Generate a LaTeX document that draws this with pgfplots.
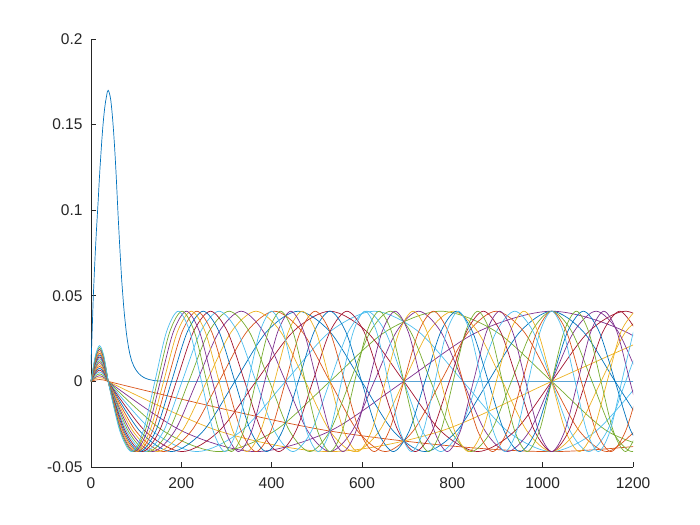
\documentclass[border=0pt]{standalone}
\usepackage{fontspec}
\setmainfont{Liberation Sans}
\usepackage{pgfplots}
\pgfplotsset{compat=1.18}
\definecolor{mb1}{HTML}{0072BD}
\definecolor{mb2}{HTML}{D95319}
\definecolor{mb3}{HTML}{EDB120}
\definecolor{mb4}{HTML}{7E2F8E}
\definecolor{mb5}{HTML}{77AC30}
\definecolor{mb6}{HTML}{4DBEEE}
\definecolor{mb7}{HTML}{A2142F}
\definecolor{axgray}{HTML}{262626}
\begin{document}
\begin{tikzpicture}
\path[use as bounding box] (-91bp,-58bp) rectangle (609bp,467bp);
\begin{axis}[
    at={(0,0)}, anchor=south west, scale only axis,
    width=542bp, height=428bp,
    xmin=0, xmax=1200, ymin=-0.05, ymax=0.2,
    axis x line*=bottom, axis y line*=left,
    axis line style={axgray, line width=0.8pt},
    xtick={0,200,...,1200}, xticklabels={0,200,400,600,800,1000,1200},
    ytick={-0.05,0,0.05,0.1,0.15,0.2}, yticklabels={-0.05,0,0.05,0.1,0.15,0.2},
    tick align=inside, major tick length=5bp,
    tick style={axgray, line width=0.8pt},
    tick label style={font=\fontsize{15.5bp}{18bp}\selectfont, text=axgray},
    xticklabel style={yshift=-7bp},
    yticklabel style={xshift=-5bp},
    every axis plot/.append style={line width=0.7pt, no markers},
]
% bound state
\addplot[mb1] coordinates {
(0,0.010)(1,0.017)(2,0.025)(3,0.033)(4,0.041)(5,0.049)(6.5,0.058)(8,0.067)(10,0.078)
(12,0.088)(14,0.097)(16,0.106)(18,0.116)(20,0.125)(22,0.133)(24,0.141)(26,0.148)
(28,0.154)(30,0.159)(32,0.163)(34,0.166)(36,0.169)(38,0.170)(40,0.169)(42,0.167)
(44,0.164)(46,0.159)(48,0.153)(50,0.146)(52,0.138)(54,0.129)(56,0.119)(58,0.108)
(60,0.097)(62,0.087)(64,0.077)(66,0.068)(68,0.059)(70,0.052)(72,0.045)(74,0.039)
(76,0.034)(78,0.029)(80,0.025)(83,0.020)(86,0.016)(90,0.0120)(95,0.0088)(100,0.0065)
(105,0.0048)(110,0.0035)(115,0.0026)(120,0.0019)(125,0.0014)(130,0.0010)(140,0.0005)
(150,0.0002)(170,0)(1200,0)};
% n = 1
\addplot[mb2, smooth] coordinates {(0,0)(9.5,0.0008)(19,0.0011)(28.5,0.0008)(38,0)};
\addplot[mb2, smooth] coordinates {(38,0)(529,-0.029)(1020,-0.041)(1511,-0.029)};
% n = 2
\addplot[mb3, smooth] coordinates {(0,0)(9.5,0.0016)(19,0.0022)(28.5,0.0016)(38,0)};
\addplot[mb3, smooth] coordinates {(38,0)(283.5,-0.029)(529,-0.041)(774.5,-0.029)(1020,0)(1265.5,0.029)};
% n = 3
\addplot[mb4, smooth] coordinates {(0,0)(9.5,0.0023)(19,0.0033)(28.5,0.0023)(38,0)};
\addplot[mb4, smooth] coordinates {(38,0)(201.7,-0.029)(365.3,-0.041)(529,-0.029)(692.7,0)(856.3,0.029)(1020,0.041)(1183.7,0.029)(1347.3,0)};
% n = 4
\addplot[mb5, smooth] coordinates {(0,0)(9.5,0.0031)(19,0.0044)(28.5,0.0031)(38,0)};
\addplot[mb5, smooth] coordinates {(38,0)(160.75,-0.029)(283.5,-0.041)(406.25,-0.029)(529,0)(651.75,0.029)(774.5,0.041)(897.25,0.029)(1020,0)(1142.75,-0.029)(1265.5,-0.041)};
% n = 5
\addplot[mb6, smooth] coordinates {(0,0)(9.5,0.0039)(19,0.0055)(28.5,0.0039)(38,0)};
\addplot[mb6, smooth] coordinates {(38,0)(136.2,-0.029)(234.4,-0.041)(332.6,-0.029)(430.8,0)(529,0.029)(627.2,0.041)(725.4,0.029)(823.6,0)(921.8,-0.029)(1020,-0.041)(1118.2,-0.029)(1216.4,0)};
% n = 6
\addplot[mb7, smooth] coordinates {(0,0)(9.5,0.0047)(19,0.0066)(28.5,0.0047)(38,0)};
\addplot[mb7, smooth] coordinates {(38,0)(119.8,-0.029)(201.7,-0.041)(283.5,-0.029)(365.3,0)(447.2,0.029)(529,0.041)(610.8,0.029)(692.7,0)(774.5,-0.029)(856.3,-0.041)(938.2,-0.029)(1020,0)(1101.8,0.029)(1183.7,0.041)(1265.5,0.029)};
% n = 7
\addplot[mb1, smooth] coordinates {(0,0)(9.5,0.0054)(19,0.0077)(28.5,0.0054)(38,0)};
\addplot[mb1, smooth] coordinates {(38,0)(108.1,-0.029)(178.3,-0.041)(248.4,-0.029)(318.6,0)(388.7,0.029)(458.9,0.041)(529,0.029)(599.1,0)(669.3,-0.029)(739.4,-0.041)(809.6,-0.029)(879.7,0)(949.9,0.029)(1020,0.041)(1090.1,0.029)(1160.3,0)(1230.4,-0.029)};
% n = 8
\addplot[mb2, smooth] coordinates {(0,0)(9.5,0.0062)(19,0.0088)(28.5,0.0062)(38,0)};
\addplot[mb2, smooth] coordinates {(38,0)(99.4,-0.029)(160.75,-0.041)(222.1,-0.029)(283.5,0)(344.9,0.029)(406.25,0.041)(467.6,0.029)(529,0)(590.4,-0.029)(651.75,-0.041)(713.1,-0.029)(774.5,0)(835.9,0.029)(897.25,0.041)(958.6,0.029)(1020,0)(1081.4,-0.029)(1142.75,-0.041)(1204.1,-0.029)};
% n = 9
\addplot[mb3, smooth] coordinates {(0,0)(9.5,0.0070)(19,0.0099)(28.5,0.0070)(38,0)};
\addplot[mb3, smooth] coordinates {(38,0)(92.6,-0.029)(147.1,-0.041)(201.7,-0.029)(256.2,0)(310.8,0.029)(365.3,0.041)(419.9,0.029)(474.4,0)(529,-0.029)(583.6,-0.041)(638.1,-0.029)(692.7,0)(747.2,0.029)(801.8,0.041)(856.3,0.029)(910.9,0)(965.4,-0.029)(1020,-0.041)(1074.6,-0.029)(1129.1,0)(1183.7,0.029)(1238.2,0.041)};
% n = 10
\addplot[mb4, smooth] coordinates {(0,0)(9.5,0.0078)(19,0.0110)(28.5,0.0078)(38,0)};
\addplot[mb4, smooth] coordinates {(38,0)(87.1,-0.029)(136.2,-0.041)(185.3,-0.029)(234.4,0)(283.5,0.029)(332.6,0.041)(381.7,0.029)(430.8,0)(479.9,-0.029)(529,-0.041)(578.1,-0.029)(627.2,0)(676.3,0.029)(725.4,0.041)(774.5,0.029)(823.6,0)(872.7,-0.029)(921.8,-0.041)(970.9,-0.029)(1020,0)(1069.1,0.029)(1118.2,0.041)(1167.3,0.029)(1216.4,0)};
% n = 11
\addplot[mb5, smooth] coordinates {(0,0)(9.5,0.0086)(19,0.0121)(28.5,0.0086)(38,0)};
\addplot[mb5, smooth] coordinates {(38,0)(82.6,-0.029)(127.3,-0.041)(171.9,-0.029)(216.5,0)(261.2,0.029)(305.8,0.041)(350.5,0.029)(395.1,0)(439.7,-0.029)(484.4,-0.041)(529,-0.029)(573.6,0)(618.3,0.029)(662.9,0.041)(707.5,0.029)(752.2,0)(796.8,-0.029)(841.5,-0.041)(886.1,-0.029)(930.7,0)(975.4,0.029)(1020,0.041)(1064.6,0.029)(1109.3,0)(1153.9,-0.029)(1198.5,-0.041)(1243.2,-0.029)};
% n = 12
\addplot[mb6, smooth] coordinates {(0,0)(9.5,0.0093)(19,0.0132)(28.5,0.0093)(38,0)};
\addplot[mb6, smooth] coordinates {(38,0)(78.9,-0.029)(119.8,-0.041)(160.75,-0.029)(201.7,0)(242.6,0.029)(283.5,0.041)(324.4,0.029)(365.3,0)(406.25,-0.029)(447.2,-0.041)(488.1,-0.029)(529,0)(569.9,0.029)(610.8,0.041)(651.75,0.029)(692.7,0)(733.6,-0.029)(774.5,-0.041)(815.4,-0.029)(856.3,0)(897.25,0.029)(938.2,0.041)(979.1,0.029)(1020,0)(1060.9,-0.029)(1101.8,-0.041)(1142.75,-0.029)(1183.7,0)(1224.6,0.029)};
% n = 13
\addplot[mb7, smooth] coordinates {(0,0)(9.5,0.0101)(19,0.0143)(28.5,0.0101)(38,0)};
\addplot[mb7, smooth] coordinates {(38,0)(75.8,-0.029)(113.5,-0.041)(151.3,-0.029)(189.1,0)(226.8,0.029)(264.6,0.041)(302.4,0.029)(340.2,0)(377.9,-0.029)(415.7,-0.041)(453.5,-0.029)(491.2,0)(529,0.029)(566.8,0.041)(604.5,0.029)(642.3,0)(680.1,-0.029)(717.8,-0.041)(755.6,-0.029)(793.4,0)(831.2,0.029)(868.9,0.041)(906.7,0.029)(944.5,0)(982.2,-0.029)(1020,-0.041)(1057.8,-0.029)(1095.5,0)(1133.3,0.029)(1171.1,0.041)(1208.8,0.029)};
% n = 14
\addplot[mb1, smooth] coordinates {(0,0)(9.5,0.0109)(19,0.0154)(28.5,0.0109)(38,0)};
\addplot[mb1, smooth] coordinates {(38,0)(73.1,-0.029)(108.1,-0.041)(143.2,-0.029)(178.3,0)(213.4,0.029)(248.4,0.041)(283.5,0.029)(318.6,0)(353.6,-0.029)(388.7,-0.041)(423.8,-0.029)(458.9,0)(493.9,0.029)(529,0.041)(564.1,0.029)(599.1,0)(634.2,-0.029)(669.3,-0.041)(704.4,-0.029)(739.4,0)(774.5,0.029)(809.6,0.041)(844.6,0.029)(879.7,0)(914.8,-0.029)(949.9,-0.041)(984.9,-0.029)(1020,0)(1055.1,0.029)(1090.1,0.041)(1125.2,0.029)(1160.3,0)(1195.4,-0.029)(1230.4,-0.041)};
% n = 15
\addplot[mb2, smooth] coordinates {(0,0)(9.5,0.0117)(19,0.0165)(28.5,0.0117)(38,0)};
\addplot[mb2, smooth] coordinates {(38,0)(70.7,-0.029)(103.5,-0.041)(136.2,-0.029)(168.9,0)(201.7,0.029)(234.4,0.041)(267.1,0.029)(299.9,0)(332.6,-0.029)(365.3,-0.041)(398.1,-0.029)(430.8,0)(463.5,0.029)(496.3,0.041)(529,0.029)(561.7,0)(594.5,-0.029)(627.2,-0.041)(659.9,-0.029)(692.7,0)(725.4,0.029)(758.1,0.041)(790.9,0.029)(823.6,0)(856.3,-0.029)(889.1,-0.041)(921.8,-0.029)(954.5,0)(987.3,0.029)(1020,0.041)(1052.7,0.029)(1085.5,0)(1118.2,-0.029)(1150.9,-0.041)(1183.7,-0.029)(1216.4,0)};
% n = 16
\addplot[mb3, smooth] coordinates {(0,0)(9.5,0.0124)(19,0.0176)(28.5,0.0124)(38,0)};
\addplot[mb3, smooth] coordinates {(38,0)(68.7,-0.029)(99.4,-0.041)(130.1,-0.029)(160.75,0)(191.4,0.029)(222.1,0.041)(252.8,0.029)(283.5,0)(314.2,-0.029)(344.9,-0.041)(375.6,-0.029)(406.25,0)(436.9,0.029)(467.6,0.041)(498.3,0.029)(529,0)(559.7,-0.029)(590.4,-0.041)(621.1,-0.029)(651.75,0)(682.4,0.029)(713.1,0.041)(743.8,0.029)(774.5,0)(805.2,-0.029)(835.9,-0.041)(866.6,-0.029)(897.25,0)(927.9,0.029)(958.6,0.041)(989.3,0.029)(1020,0)(1050.7,-0.029)(1081.4,-0.041)(1112.1,-0.029)(1142.75,0)(1173.4,0.029)(1204.1,0.041)};
% n = 17
\addplot[mb4, smooth] coordinates {(0,0)(9.5,0.0132)(19,0.0187)(28.5,0.0132)(38,0)};
\addplot[mb4, smooth] coordinates {(38,0)(66.9,-0.029)(95.8,-0.041)(124.6,-0.029)(153.5,0)(182.4,0.029)(211.3,0.041)(240.2,0.029)(269.1,0)(297.9,-0.029)(326.8,-0.041)(355.7,-0.029)(384.6,0)(413.5,0.029)(442.4,0.041)(471.2,0.029)(500.1,0)(529,-0.029)(557.9,-0.041)(586.8,-0.029)(615.6,0)(644.5,0.029)(673.4,0.041)(702.3,0.029)(731.2,0)(760.1,-0.029)(788.9,-0.041)(817.8,-0.029)(846.7,0)(875.6,0.029)(904.5,0.041)(933.4,0.029)(962.2,0)(991.1,-0.029)(1020,-0.041)(1048.9,-0.029)(1077.8,0)(1106.6,0.029)(1135.5,0.041)(1164.4,0.029)(1193.3,0)(1222.2,-0.029)};
% n = 18
\addplot[mb5, smooth] coordinates {(0,0)(9.5,0.0140)(19,0.0198)(28.5,0.0140)(38,0)};
\addplot[mb5, smooth] coordinates {(38,0)(65.3,-0.029)(92.6,-0.041)(119.8,-0.029)(147.1,0)(174.4,0.029)(201.7,0.041)(228.9,0.029)(256.2,0)(283.5,-0.029)(310.8,-0.041)(338.1,-0.029)(365.3,0)(392.6,0.029)(419.9,0.041)(447.2,0.029)(474.4,0)(501.7,-0.029)(529,-0.041)(556.3,-0.029)(583.6,0)(610.8,0.029)(638.1,0.041)(665.4,0.029)(692.7,0)(719.9,-0.029)(747.2,-0.041)(774.5,-0.029)(801.8,0)(829.1,0.029)(856.3,0.041)(883.6,0.029)(910.9,0)(938.2,-0.029)(965.4,-0.041)(992.7,-0.029)(1020,0)(1047.3,0.029)(1074.6,0.041)(1101.8,0.029)(1129.1,0)(1156.4,-0.029)(1183.7,-0.041)(1210.9,-0.029)};
% n = 19
\addplot[mb6, smooth] coordinates {(0,0)(9.5,0.0148)(19,0.0209)(28.5,0.0148)(38,0)};
\addplot[mb6, smooth] coordinates {(38,0)(63.8,-0.029)(89.7,-0.041)(115.5,-0.029)(141.4,0)(167.2,0.029)(193.1,0.041)(218.9,0.029)(244.7,0)(270.6,-0.029)(296.4,-0.041)(322.3,-0.029)(348.1,0)(374,0.029)(399.8,0.041)(425.6,0.029)(451.5,0)(477.3,-0.029)(503.2,-0.041)(529,-0.029)(554.8,0)(580.7,0.029)(606.5,0.041)(632.4,0.029)(658.2,0)(684.1,-0.029)(709.9,-0.041)(735.7,-0.029)(761.6,0)(787.4,0.029)(813.3,0.041)(839.1,0.029)(865,0)(890.8,-0.029)(916.6,-0.041)(942.5,-0.029)(968.3,0)(994.2,0.029)(1020,0.041)(1045.8,0.029)(1071.7,0)(1097.5,-0.029)(1123.4,-0.041)(1149.2,-0.029)(1175.1,0)(1200.9,0.029)};
\end{axis}
\end{tikzpicture}
\end{document}
